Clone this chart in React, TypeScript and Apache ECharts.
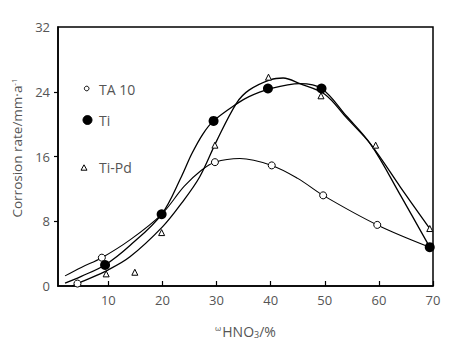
import React, { useEffect, useRef } from "react";
import * as echarts from "echarts";

// Axis settings
const xMin = 0.7;
const xMax = 70;
const xTicks = [10, 20, 30, 40, 50, 60, 70];
const yMin = 0;
const yMax = 32;
const yStep = 8;

// Measured points (markers)
const ta10X = [4.3, 8.8, 29.7, 40.2, 49.7, 59.7, 69.4];
const ta10Y = [0.3, 3.5, 15.3, 14.9, 11.2, 7.55, 4.8];
const tiX = [9.4, 19.85, 29.45, 39.5, 49.4, 69.4];
const tiY = [2.6, 8.86, 20.4, 24.4, 24.4, 4.8];
const tiPdX = [9.6, 14.9, 19.85, 29.7, 39.6, 49.3, 59.4, 69.4];
const tiPdY = [1.5, 1.7, 6.6, 17.4, 25.8, 23.5, 17.4, 7.1];

// Fitted curves
const ta10CurveX = [2, 5, 8.8, 14, 19.85, 24, 27.2, 29.7, 34.3, 40.2, 45, 49.7, 59.7, 69.4];
const ta10CurveY = [1.25, 2.3, 3.5, 5.7, 8.86, 12.3, 14.3, 15.3, 15.75, 14.9, 13.3, 11.2, 7.55, 4.8];
const tiCurveX = [2, 5, 9.4, 14, 19.85, 23.5, 25.4, 27.5, 29.45, 33.7, 36, 39.5, 45.4, 49.4, 54, 58.5, 64, 69.4];
const tiCurveY = [0.35, 1.2, 2.6, 5.0, 8.86, 13.5, 16.3, 18.8, 20.4, 22.5, 23.4, 24.3, 25.0, 24.4, 21.0, 17.5, 11.2, 4.8];
const tiPdCurveX = [3.3, 5, 10, 14, 20, 23.5, 26.9, 30, 33.7, 36, 40, 42.3, 45.4, 50, 54, 58.5, 64, 69.5];
const tiPdCurveY = [0, 0.5, 2.0, 3.6, 7.3, 10.2, 13.5, 17.9, 22.6, 24.2, 25.5, 25.7, 25.0, 23.7, 20.8, 17.5, 12.2, 7.0];

const legendNames = ["TA 10", "Ti", "Ti-Pd"];

const zip = (xs: number[], ys: number[]) => xs.map((x, i) => [x, ys[i]]);

const FONT = "Open Sans";
const GRAY = "#555555";

export default function App() {
  const ref = useRef<HTMLDivElement>(null);
  useEffect(() => {
    if (!ref.current) return;
    const chart = echarts.init(ref.current, null, { renderer: "svg" });
    const curveStyle = { color: "#000", width: 1.3 };
    const yVals: number[] = [];
    for (let v = yMin; v <= yMax; v += yStep) yVals.push(v);
    chart.setOption({
      animation: false,
      backgroundColor: "#fff",
      grid: {
        left: 58,
        right: 28,
        top: 27,
        bottom: 62,
        show: true,
        borderColor: "#000",
        borderWidth: 1.5,
      },
      xAxis: {
        type: "value",
        min: xMin,
        max: xMax,
        splitLine: { show: false },
        axisLine: { lineStyle: { color: "#000", width: 1.5 } },
        axisTick: { inside: true, length: 5, customValues: xTicks, lineStyle: { color: "#000", width: 1.2 } },
        axisLabel: {
          customValues: xTicks,
          color: GRAY,
          fontFamily: FONT,
          fontSize: 13,
          margin: 7,
        },
        name: "{sup|ω}HNO{sub|3}/%",
        nameLocation: "middle",
        nameGap: 37,
        nameTextStyle: {
          color: GRAY,
          fontFamily: FONT,
          fontSize: 14,
          rich: {
            sup: { fontSize: 8, verticalAlign: "top", padding: [0, 1, 8, 0], color: GRAY, fontFamily: FONT },
            sub: { fontSize: 9, verticalAlign: "bottom", padding: [7, 0, 0, 0], color: GRAY, fontFamily: FONT },
          },
        },
      },
      yAxis: {
        type: "value",
        min: yMin,
        max: yMax,
        interval: yStep,
        splitLine: { show: false },
        axisLine: { show: true, lineStyle: { color: "#000", width: 1.5 } },
        axisTick: { show: true, length: 4, customValues: yVals.slice(1, -1), lineStyle: { color: "#000", width: 1.2 } },
        axisLabel: { color: GRAY, fontFamily: FONT, fontSize: 13, margin: 8 },
      },
      graphic: [
        {
          type: "text",
          x: 17,
          y: 148,
          rotation: Math.PI / 2,
          style: {
            text: "Corrosion rate/mm·a{sup|-1}",
            fill: GRAY,
            font: `13.5px "${FONT}"`,
            align: "center",
            verticalAlign: "middle",
            rich: {
              sup: { fontSize: 8, verticalAlign: "top", padding: [0, 0, 8, 0], fill: GRAY, fontFamily: FONT },
            },
          },
        },
        { type: "circle", shape: { cx: 86.7, cy: 88.5, r: 2.3 }, style: { fill: "#fff", stroke: "#000", lineWidth: 1 } },
        { type: "circle", shape: { cx: 87.5, cy: 120, r: 4.5 }, style: { fill: "#000", stroke: "#000", lineWidth: 1 } },
        {
          type: "polygon",
          shape: { points: [[84, 164.8], [81, 170.2], [87, 170.2]] },
          style: { fill: "#fff", stroke: "#000", lineWidth: 1 },
        },
        { type: "text", x: 99, y: 89, style: { text: legendNames[0], fill: GRAY, font: `14px "${FONT}"`, verticalAlign: "middle" } },
        { type: "text", x: 99, y: 120, style: { text: legendNames[1], fill: GRAY, font: `14px "${FONT}"`, verticalAlign: "middle" } },
        { type: "text", x: 99, y: 167, style: { text: legendNames[2], fill: GRAY, font: `14px "${FONT}"`, verticalAlign: "middle" } },
      ],
      series: [
        { name: "TA 10 curve", type: "line", data: zip(ta10CurveX, ta10CurveY), smooth: 0.35, showSymbol: false, lineStyle: { ...curveStyle, width: 1.1 }, z: 2 },
        { name: "Ti curve", type: "line", data: zip(tiCurveX, tiCurveY), smooth: 0.35, showSymbol: false, lineStyle: curveStyle, z: 2 },
        { name: "Ti-Pd curve", type: "line", data: zip(tiPdCurveX, tiPdCurveY), smooth: 0.35, showSymbol: false, lineStyle: curveStyle, z: 2 },
        {
          name: legendNames[0],
          type: "scatter",
          data: zip(ta10X, ta10Y),
          symbol: "circle",
          symbolSize: 7,
          itemStyle: { color: "#fff", borderColor: "#000", borderWidth: 1, opacity: 1 },
          z: 3,
        },
        {
          name: legendNames[2],
          type: "scatter",
          data: zip(tiPdX, tiPdY),
          symbol: "triangle",
          symbolSize: [6, 6],
          itemStyle: { color: "#fff", borderColor: "#000", borderWidth: 1, opacity: 1 },
          z: 3,
        },
        {
          name: legendNames[1],
          type: "scatter",
          data: zip(tiX, tiY),
          symbol: "circle",
          symbolSize: 10,
          itemStyle: { color: "#000", opacity: 1 },
          z: 4,
        },
      ],
    });
    return () => chart.dispose();
  }, []);
  return <div ref={ref} style={{ width: 461, height: 348, position: "absolute", left: 0, top: 0 }} />;
}
